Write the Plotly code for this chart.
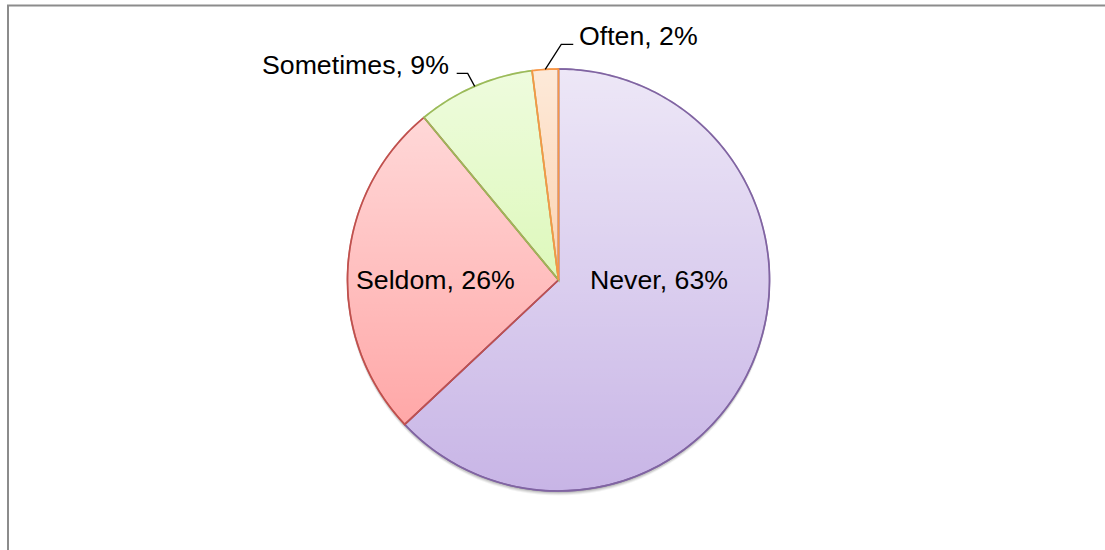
import base64
import numpy as np
import plotly.graph_objects as go

# Survey answers and their shares (percent)
labels = ["Never", "Seldom", "Sometimes", "Often"]
values = [63, 26, 9, 2]

# Slice styling
fill_colors = ["rgb(200,181,230)", "rgb(255,157,157)", "rgb(204,245,152)", "rgb(250,188,136)"]
line_colors = ["#8064A2", "#C0504D", "#9BBB59", "#F79646"]

W, H = 1105, 550
CX, CY, R = 558.5, 280.0, 211.0
FONT = dict(family="Liberation Sans, Arial, sans-serif", size=26.7, color="#000000")


def px(x):
    return x / W


def py(y):
    return 1 - y / H


def dom(dy=0.0, dr=0.0):
    return dict(x=[px(CX - R - dr), px(CX + R + dr)],
                y=[py(CY + R + dr + dy), py(CY - R - dr + dy)])


def on_circle(frac, r=R):
    t = 2 * np.pi * frac
    return CX + r * np.sin(t), CY - r * np.cos(t)


fig = go.Figure()

# soft drop shadow beneath the pie
for k, a in [(4, 0.05), (3, 0.07), (2, 0.09), (1, 0.10)]:
    fig.add_trace(go.Pie(values=[sum(values)], labels=["shadow"], domain=dom(dy=k, dr=0.5),
                         marker=dict(colors=[f"rgba(0,0,0,{a})"], line=dict(width=0)),
                         textinfo="none", hoverinfo="skip", showlegend=False, sort=False))

fig.add_trace(go.Pie(
    labels=labels, values=values, sort=False, direction="clockwise", rotation=0,
    domain=dom(),
    marker=dict(colors=fill_colors, line=dict(color=line_colors, width=1.5)),
    textinfo="none", hoverinfo="label+percent", showlegend=False,
))

# vertical white wash giving the slices their top-to-bottom gradient
svg = ("<svg xmlns='http://www.w3.org/2000/svg' width='100' height='100' viewBox='0 0 100 100' "
       "preserveAspectRatio='none'><defs><linearGradient id='g' x1='0' y1='0' x2='0' y2='1'>"
       "<stop offset='0' stop-color='#ffffff' stop-opacity='0.68'/>"
       "<stop offset='1' stop-color='#ffffff' stop-opacity='0'/></linearGradient></defs>"
       "<rect width='100' height='100' fill='url(#g)'/></svg>")
src = "data:image/svg+xml;base64," + base64.b64encode(svg.encode()).decode()
fig.add_layout_image(dict(source=src, xref="paper", yref="paper",
                          x=px(CX - R), y=py(CY - R), sizex=2 * R / W, sizey=2 * R / H,
                          xanchor="left", yanchor="top", sizing="stretch", layer="above"))

# slice outlines redrawn above the wash
total = float(sum(values))
cum = np.concatenate([[0], np.cumsum(values)]) / total
shapes = []
for i in range(len(values)):
    f0, f1 = cum[i], cum[i + 1]
    n = max(4, int(360 * (f1 - f0)))
    pts = [on_circle(f) for f in np.linspace(f0, f1, n)]
    path = f"M{px(CX)},{py(CY)} " + " ".join(f"L{px(x)},{py(y)}" for x, y in pts) + " Z"
    shapes.append(dict(type="path", path=path, xref="paper", yref="paper",
                       line=dict(color=line_colors[i], width=1.7), fillcolor="rgba(0,0,0,0)",
                       layer="above"))

annotations = []
# labels placed inside the two large slices
inside_pos = {"Never": (CX + 100, CY), "Seldom": (CX - 123, CY)}
for lab, val in zip(labels, values):
    if lab in inside_pos:
        x, y = inside_pos[lab]
        annotations.append(dict(text=f"{lab}, {val}%", x=px(x), y=py(y), xref="paper", yref="paper",
                                showarrow=False, font=FONT, xanchor="center", yanchor="middle"))

# outside labels with elbow leader lines from the slice mid-arc
outside = {"Sometimes": dict(elbow=(-7, -13), run=-11, gap=-6),
           "Often": dict(elbow=(16, -25), run=12, gap=4)}
for i, (lab, val) in enumerate(zip(labels, values)):
    if lab not in outside:
        continue
    o = outside[lab]
    ax, ay = on_circle((cum[i] + cum[i + 1]) / 2)
    ex, ey = ax + o["elbow"][0], ay + o["elbow"][1]
    lx = ex + o["run"]
    shapes.append(dict(type="path", xref="paper", yref="paper",
                       path=f"M{px(ax)},{py(ay)} L{px(ex)},{py(ey)} L{px(lx)},{py(ey)}",
                       line=dict(color="#000000", width=1.3), layer="above"))
    tx = lx + o["gap"]
    annotations.append(dict(text=f"{lab}, {val}%", x=px(tx), y=py(ey - 8), xref="paper", yref="paper",
                            showarrow=False, font=FONT,
                            xanchor="right" if o["gap"] < 0 else "left", yanchor="middle"))

# chart frame (only top and left edges fall inside the view)
shapes.append(dict(type="rect", xref="paper", yref="paper", x0=px(8), x1=1.02, y0=-0.02, y1=py(5.5),
                   line=dict(color="#8c8c8c", width=2), fillcolor="rgba(0,0,0,0)", layer="above"))

fig.update_layout(width=W, height=H, margin=dict(l=0, r=0, t=0, b=0, pad=0),
                  paper_bgcolor="#ffffff", plot_bgcolor="#ffffff",
                  shapes=shapes, annotations=annotations, showlegend=False)

fig.write_html("out.html")
